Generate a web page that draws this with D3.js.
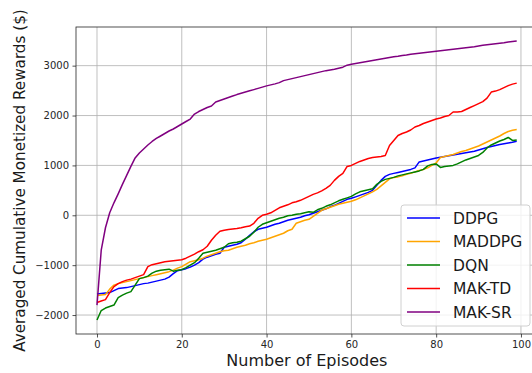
<!DOCTYPE html>
<html>
<head>
<meta charset="utf-8">
<script src="https://cdn.jsdelivr.net/npm/d3@7"></script>
<style>
  body { margin: 0; background: #fff; }
  svg { display: block; font-family: "DejaVu Sans", sans-serif; }
</style>
</head>
<body>
<div id="chart"></div>
<script>
const width = 532
const height = 373
const margin = { top: 27, bottom: 39, left: 76, right: -5.7 }

// datos: una serie por algoritmo, episodios 0..99
const episodes = d3.range(100)
const seriesNames = ["DDPG", "MADDPG", "DQN", "MAK-TD", "MAK-SR"]
const seriesColors = ["blue", "orange", "green", "red", "purple"]
const xTicks = [0, 20, 40, 60, 80, 100]
const yTicks = [-2000, -1000, 0, 1000, 2000, 3000]

const ddpg = [-1580, -1570, -1560, -1550, -1510, -1470, -1460, -1450, -1430, -1410,
  -1390, -1370, -1360, -1340, -1320, -1300, -1280, -1240, -1170, -1110,
  -1090, -1070, -1040, -1000, -950, -880, -840, -810, -780, -760,
  -640, -620, -600, -580, -550, -480, -400, -330, -280, -260,
  -240, -210, -180, -160, -130, -100, -80, -60, -40, -10,
  10, 40, 70, 100, 130, 170, 200, 240, 280, 320,
  340, 370, 400, 430, 460, 500, 600, 700, 780, 820,
  840, 860, 880, 900, 920, 950, 1070, 1090, 1110, 1130,
  1150, 1165, 1180, 1195, 1210, 1225, 1240, 1255, 1270, 1285,
  1310, 1335, 1360, 1380, 1400, 1420, 1435, 1450, 1465, 1485]

const maddpg = [-1610, -1600, -1590, -1480, -1400, -1370, -1350, -1330, -1310, -1290,
  -1270, -1250, -1230, -1210, -1190, -1170, -1150, -1130, -1100, -1060,
  -1030, -980, -930, -910, -890, -860, -820, -790, -760, -730,
  -710, -700, -670, -640, -620, -600, -570, -550, -520, -500,
  -480, -450, -420, -390, -360, -310, -280, -160, -130, -100,
  -80, -20, 40, 100, 130, 160, 190, 220, 240, 260,
  280, 310, 350, 390, 430, 470, 520, 590, 660, 730,
  760, 770, 790, 820, 840, 870, 900, 920, 950, 1000,
  1050, 1160, 1180, 1200, 1220, 1250, 1280, 1300, 1330, 1360,
  1390, 1430, 1470, 1510, 1550, 1590, 1640, 1680, 1705, 1720]

const dqn = [-2100, -1910, -1860, -1830, -1800, -1650, -1600, -1560, -1530, -1400,
  -1270, -1250, -1220, -1160, -1120, -1100, -1090, -1080, -1120, -1100,
  -1090, -1050, -1000, -950, -860, -760, -740, -720, -700, -670,
  -640, -570, -550, -540, -520, -470, -420, -340, -240, -180,
  -150, -120, -90, -60, -40, -10, 0, 20, 30, 50,
  70, 60, 110, 140, 180, 210, 250, 290, 320, 350,
  380, 430, 470, 490, 510, 530, 620, 680, 720, 740,
  760, 790, 810, 830, 850, 870, 890, 920, 990, 1020,
  1030, 960, 980, 990, 1000, 1030, 1070, 1110, 1140, 1170,
  1200, 1260, 1350, 1410, 1450, 1490, 1520, 1560, 1500, 1510]

const makTd = [-1750, -1720, -1690, -1550, -1430, -1370, -1330, -1300, -1280, -1250,
  -1220, -1190, -1030, -990, -970, -950, -930, -920, -910, -900,
  -890, -860, -820, -780, -730, -690, -620, -500, -400, -320,
  -300, -285, -275, -265, -250, -230, -215, -160, -60, 0,
  20, 50, 100, 150, 180, 210, 250, 270, 300, 340,
  380, 420, 450, 490, 540, 600, 700, 780, 840, 980,
  1000, 1040, 1080, 1110, 1140, 1160, 1170, 1180, 1200, 1400,
  1500, 1600, 1640, 1670, 1710, 1770, 1800, 1840, 1870, 1900,
  1930, 1950, 1980, 2000, 2070, 2070, 2080, 2120, 2160, 2200,
  2240, 2280, 2350, 2470, 2490, 2520, 2560, 2600, 2630, 2650]

const makSr = [-1800, -700, -250, 50, 250, 430, 620, 800, 980, 1150,
  1250, 1330, 1410, 1480, 1540, 1590, 1640, 1690, 1730, 1780,
  1830, 1880, 1930, 2030, 2080, 2120, 2160, 2190, 2270, 2300,
  2330, 2360, 2390, 2420, 2445, 2470, 2495, 2520, 2545, 2570,
  2595, 2615, 2635, 2660, 2700, 2720, 2740, 2760, 2780, 2800,
  2820, 2840, 2860, 2880, 2900, 2915, 2930, 2950, 2970, 3010,
  3030, 3045, 3060, 3075, 3090, 3105, 3120, 3135, 3150, 3165,
  3180, 3190, 3205, 3215, 3230, 3240, 3250, 3260, 3270, 3280,
  3290, 3300, 3310, 3320, 3330, 3340, 3350, 3360, 3370, 3380,
  3395, 3410, 3420, 3430, 3440, 3450, 3460, 3475, 3485, 3495]

const allSeries = [ddpg, maddpg, dqn, makTd, makSr]

const svg = d3.select("div#chart")
  .append("svg")
  .attr("width", width)
  .attr("height", height)

const innerW = width - margin.left - margin.right
const innerH = height - margin.top - margin.bottom

// escalas (margen de 5% como matplotlib)
const x = d3.scaleLinear().domain([-4.95, 103.95]).range([0, innerW])
const y = d3.scaleLinear().domain([-2380, 3775]).range([innerH, 0])

const plot = svg.append("g")
  .attr("transform", `translate(${margin.left}, ${margin.top})`)

// rejilla
plot.append("g").selectAll("line").data(xTicks)
  .join("line")
  .attr("x1", d => x(d)).attr("x2", d => x(d))
  .attr("y1", 0).attr("y2", innerH)
  .attr("stroke", "#b0b0b0").attr("stroke-width", 0.8)

plot.append("g").selectAll("line").data(yTicks)
  .join("line")
  .attr("x1", 0).attr("x2", innerW)
  .attr("y1", d => y(d)).attr("y2", d => y(d))
  .attr("stroke", "#b0b0b0").attr("stroke-width", 0.8)

// lineas
const line = d3.line()
  .x((d, i) => x(episodes[i]))
  .y(d => y(d))

plot.append("g").selectAll("path").data(allSeries)
  .join("path")
  .attr("d", d => line(d))
  .attr("fill", "none")
  .attr("stroke", (d, i) => seriesColors[i])
  .attr("stroke-width", 1.5)
  .attr("stroke-linejoin", "round")

// ejes
const fmt = d => d3.format("d")(d).replace("-", "\u2212")

const xAxisGroup = plot.append("g")
  .attr("transform", `translate(0, ${innerH})`)
  .call(d3.axisBottom(x).tickValues(xTicks).tickSize(3.5).tickPadding(3.5).tickFormat(fmt))

const yAxisGroup = plot.append("g")
  .call(d3.axisLeft(y).tickValues(yTicks).tickSize(3.5).tickPadding(3.5).tickFormat(fmt))

svg.selectAll(".tick text")
  .attr("font-family", "DejaVu Sans")
  .attr("font-size", 10)
  .attr("fill", "#262626")
svg.selectAll(".tick line").attr("stroke", "#262626").attr("stroke-width", 0.8)
svg.selectAll(".domain").remove()

// marco
plot.append("rect")
  .attr("x", 0).attr("y", 0)
  .attr("width", innerW).attr("height", innerH)
  .attr("fill", "none")
  .attr("stroke", "#262626")
  .attr("stroke-width", 0.8)

// titulos de ejes
svg.append("text")
  .attr("x", margin.left + innerW / 2)
  .attr("y", 366)
  .attr("text-anchor", "middle")
  .attr("font-size", 16)
  .attr("fill", "#1a1a1a")
  .text("Number of Episodes")

svg.append("text")
  .attr("transform", `translate(25, ${margin.top + innerH / 2}) rotate(-90)`)
  .attr("text-anchor", "middle")
  .attr("font-size", 15.2)
  .attr("fill", "#1a1a1a")
  .text("Averaged Cumulative Monetized Rewards ($)")

// leyenda
const legend = svg.append("g").attr("transform", "translate(401, 205)")
legend.append("rect")
  .attr("width", 129).attr("height", 121)
  .attr("rx", 3)
  .attr("fill", "#fff").attr("fill-opacity", 0.8)
  .attr("stroke", "#d0d0d0").attr("stroke-width", 1)

const items = legend.selectAll("g.item").data(seriesNames)
  .join("g")
  .attr("class", "item")
  .attr("transform", (d, i) => `translate(0, ${13 + i * 23.5})`)

items.append("line")
  .attr("x1", 6).attr("x2", 39)
  .attr("stroke", (d, i) => seriesColors[i])
  .attr("stroke-width", 1.5)

items.append("text")
  .attr("x", 52)
  .attr("dy", "0.36em")
  .attr("font-size", 15.5)
  .attr("fill", "#1a1a1a")
  .text(d => d)
</script>
</body>
</html>
